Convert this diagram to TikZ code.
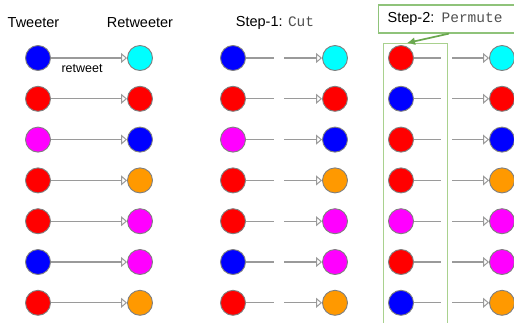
\documentclass[tikz,border=0pt]{standalone}
\usepackage{fontspec}
\setmainfont{Liberation Sans}
\setmonofont{Liberation Mono}
\usetikzlibrary{arrows.meta,calc}
\definecolor{cblue}{HTML}{0000FF}
\definecolor{cred}{HTML}{FF0000}
\definecolor{cmag}{HTML}{FF00FF}
\definecolor{ccyan}{HTML}{00FFFF}
\definecolor{corange}{HTML}{FF9900}
\definecolor{dotgray}{HTML}{808080}
\definecolor{linegray}{HTML}{9A9A9A}
\definecolor{monogray}{HTML}{505050}
\definecolor{lightgrn}{HTML}{A9D18E}
\definecolor{midgrn}{HTML}{8FC37A}
\definecolor{darkgrn}{HTML}{6AA84F}
\newcommand{\code}[1]{{\ttfamily\color{monogray}#1}}
\begin{document}
\begin{tikzpicture}[x=1pt,y=-1pt,
  dot/.style={circle,draw=dotgray,line width=0.9pt,minimum size=25pt,inner sep=0pt},
  link/.style={draw=linegray,line width=1.1pt},
  rt/.style={link,-{Triangle[open,length=6pt,width=10pt,line width=1pt]}},
  lbl/.style={font=\fontsize{14.5}{17}\selectfont,inner sep=0pt},
  small/.style={font=\fontsize{12.5}{15}\selectfont,inner sep=0pt},
]
\clip (0,0) rectangle (514,322);
\fill[white] (0,0) rectangle (514,322);
% headings
\node[lbl] (h1) at (33.5,23) {Tweeter};
\node[lbl] (h2) at (140,23) {Retweeter};
\node[lbl] (h3) at (275,23) {Step-1: \code{Cut}};
\node[lbl,draw=midgrn,line width=1.2pt,anchor=west,inner xsep=9pt,minimum height=28pt,text width=140pt,align=left] (s2) at (378,19) {Step-2: \code{Permute}};
\node[draw=lightgrn,line width=1.3pt,anchor=north west,minimum width=64pt,minimum height=300pt,inner sep=0pt] (grp) at (383,43) {};
\draw[darkgrn,line width=1.7pt,-{Latex[length=8pt,width=8pt]}] ($(s2.south west)+(71,0)$) -- ($(grp.north west)+(24,0)$);
% rows
\foreach \i/\a/\b/\c in {0/cblue/ccyan/cred,1/cred/cred/cblue,2/cmag/cblue/cred,3/cred/corange/cred,4/cred/cmag/cmag,5/cblue/cmag/cred,6/cred/corange/cblue}{
  \pgfmathsetmacro\yy{58+40.8*\i}
  \node[dot,fill=\a] (a\i) at (38,\yy) {};
  \node[dot,fill=\b] (b\i) at (140,\yy) {};
  \draw[rt] (a\i) -- (b\i);
  \node[dot,fill=\a] (p\i) at (233,\yy) {};
  \node[dot,fill=\b] (q\i) at (335,\yy) {};
  \coordinate (pc\i) at (274,\yy);
  \coordinate (qc\i) at (284,\yy);
  \draw[link] (p\i) -- (pc\i);
  \draw[rt] (qc\i) -- (q\i);
  \node[dot,fill=\c] (u\i) at (401,\yy) {};
  \node[dot,fill=\b] (v\i) at (502,\yy) {};
  \coordinate (uc\i) at (441,\yy);
  \coordinate (vc\i) at (452,\yy);
  \draw[link] (u\i) -- (uc\i);
  \draw[rt] (vc\i) -- (v\i);
}
\node[small] (rl) at (82,69) {retweet};
\end{tikzpicture}
\end{document}
